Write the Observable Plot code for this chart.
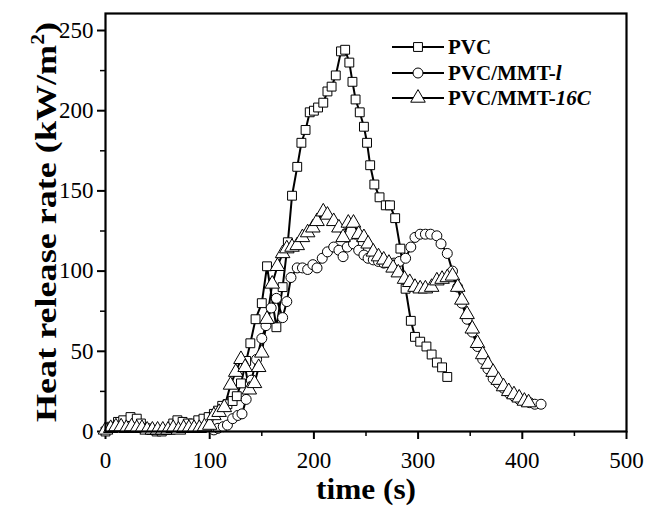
<!DOCTYPE html>
<html><head><meta charset="utf-8">
<script src="https://cdn.jsdelivr.net/npm/d3@7"></script>
<script src="https://cdn.jsdelivr.net/npm/@observablehq/plot@0.6"></script>
<style>body{margin:0;background:#fff}</style>
</head><body><div id="chart"></div>
<script>
const seriesNames = ["PVC", "PVC/MMT-l", "PVC/MMT-16C"];
const pvcTime = [0,6,12,17,24,30,34,39,44,49,54,59,65,69,74,79,84,89,94,99,104,108,112,117,122,126,130,135,139,144,150,155,164,170,175,179,184,188,192,196,200,204,209,213,217,221,226,230,234,237,240,244,248,251,254,258,263,269,273,278,283,288,293,297,302,308,313,318,323,328];
const pvcHRR  = [0,3,6,7,9,8,5,2,1,0,0,1,5,7,6,5,5,7,8,9,11,13,16,17,19,22,30,44,55,70,80,103,65,90,118,147,165,180,188,199,200,202,205,212,215,222,237,238,230,218,207,199,190,180,166,154,146,141,141,133,114,89,69,59,56,53,48,43,40,34];
const mmtlTime = [104,108,113,117,122,127,131,135,140,145,150,154,159,164,170,174,178,184,189,194,199,203,208,213,219,224,228,232,238,243,248,252,257,262,267,272,277,282,288,293,297,302,307,312,318,322,328,333,338,342,347,352,357,362,367,372,377,382,387,392,397,402,407,412,418];
const mmtlHRR  = [1,2,3,4,8,10,11,20,32,45,58,66,77,83,71,81,96,102,102,101,104,102,108,112,115,113,109,115,117,113,110,108,107,106,105,105,105,106,108,115,121,123,123,123,122,117,111,100,90,80,70,62,53,45,39,33,30,27,24,22,20,19,18,17,17];
const mmt16Time = [0,5,10,15,20,25,30,35,40,45,50,55,60,65,70,75,80,85,90,95,100,104,109,114,120,125,130,134,138,143,147,150,155,160,165,170,174,179,184,189,194,199,203,209,213,219,224,228,233,238,243,248,252,257,262,267,272,276,281,287,292,297,302,307,313,318,323,328,333,338,342,347,352,357,362,367,372,377,382,387,392,397,402,406];
const mmt16HRR  = [1,2,3,3,2,3,2,2,1,1,1,1,1,2,1,2,2,2,2,3,4,10,12,15,29,37,45,40,26,30,40,49,70,92,103,111,114,115,116,121,124,127,131,137,135,131,127,121,130,130,123,121,117,112,109,107,105,102,99,95,93,90,89,89,90,94,95,96,97,90,82,73,64,55,48,42,37,32,28,25,23,21,19,18];
const xTicks = [0,100,200,300,400,500];
const xMinor = [50,150,250,350,450];
const yTicks = [0,50,100,150,200,250];
const yMinor = [25,75,125,175,225];

const symbols = ["square","circle","triangle"];
const toRows = (name, ts, vs) => ts.map((t,i)=>({series:name, t, v:vs[i]}));
const sets = [
  toRows(seriesNames[0], pvcTime, pvcHRR),
  toRows(seriesNames[1], mmtlTime, mmtlHRR),
  toRows(seriesNames[2], mmt16Time, mmt16HRR)
];

const marks = [];
sets.forEach((rows,i)=>{
  marks.push(Plot.line(rows,{x:"t",y:"v",stroke:"black",strokeWidth:2}));
});
sets.forEach((rows,i)=>{
  marks.push(Plot.dot(rows,{x:"t",y:"v",symbol:()=>symbols[i],r:i===2?5.4:5,fill:"white",stroke:"black",strokeWidth:1}));
});

const chart = Plot.plot({
  width:645, height:506,
  marginLeft:105, marginRight:19, marginTop:13, marginBottom:75,
  x:{domain:[0,500]},
  y:{domain:[0,260.6]},
  symbol:{domain:symbols, range:symbols},
  style:{fontFamily:"'Liberation Serif', 'DejaVu Serif', serif", fontSize:"22px", color:"black", background:"white"},
  marks:[
    Plot.axisX({ticks:xTicks, tickSize:8, tickPadding:12, strokeWidth:2, label:null, fontSize:23}),
    Plot.axisX({ticks:xMinor, tickSize:5, tickFormat:()=>"", strokeWidth:1.5, label:null}),
    Plot.axisY({ticks:yTicks, tickSize:8, tickPadding:4, strokeWidth:2, label:null, fontSize:23}),
    Plot.axisY({ticks:yMinor, tickSize:5, tickFormat:()=>"", strokeWidth:1.5, label:null}),
    ...marks,
    Plot.frame({stroke:"black", strokeWidth:2.2})
  ]
});
document.getElementById("chart").appendChild(chart);

const svg = d3.select(chart);
const serif = "'Liberation Serif', 'DejaVu Serif', serif";
// axis titles
svg.append("text").attr("x",366).attr("y",499).attr("text-anchor","middle")
  .attr("font-family",serif).attr("font-weight","bold").attr("font-size",29)
  .attr("textLength",100).attr("lengthAdjust","spacingAndGlyphs").text("time (s)");
const yl = svg.append("text").attr("transform","translate(56,222) rotate(-90)").attr("text-anchor","middle")
  .attr("font-family",serif).attr("font-weight","bold").attr("font-size",30)
  .attr("textLength",400).attr("lengthAdjust","spacingAndGlyphs");
yl.append("tspan").text("Heat release rate (kW/m");
yl.append("tspan").attr("font-size",18).attr("dy",-12).text("2");
yl.append("tspan").attr("dy",12).text(")");

// legend
const legendY = [47,73,98];
const legendLabels = [["PVC",""],["PVC/MMT-","l"],["PVC/MMT-","16C"]];
const symGen = [d3.symbolSquare, d3.symbolCircle, d3.symbolTriangle];
legendY.forEach((ly,i)=>{
  const g = svg.append("g");
  g.append("line").attr("x1",392).attr("x2",444).attr("y1",ly).attr("y2",ly).attr("stroke","black").attr("stroke-width",1.8);
  const r = i===2?5.4:5;
  g.append("path").attr("d",d3.symbol(symGen[i], Math.PI*r*r)()).attr("transform",`translate(418,${ly})`)
    .attr("fill","white").attr("stroke","black");
  const t = g.append("text").attr("x",448).attr("y",ly+7).attr("text-anchor","start").attr("font-family",serif).attr("font-weight","bold").attr("font-size",21);
  t.append("tspan").text(legendLabels[i][0]);
  if (legendLabels[i][1]) t.append("tspan").attr("font-style","italic").text(legendLabels[i][1]);
});
</script></body></html>
